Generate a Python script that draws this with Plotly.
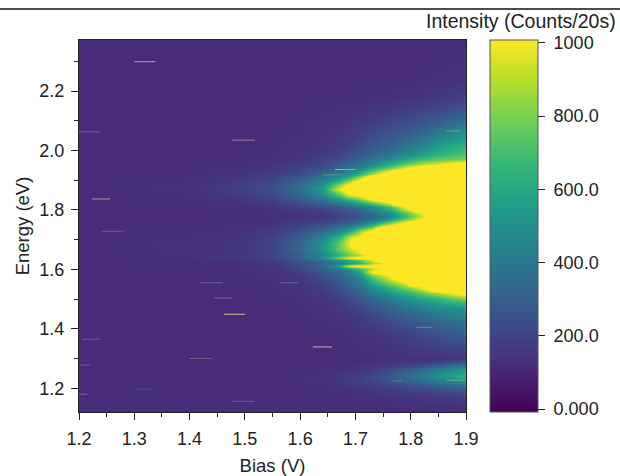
import plotly.graph_objects as go

bias = [1.2, 1.4, 1.5, 1.55, 1.6, 1.64, 1.67, 1.69, 1.71, 1.73, 1.76, 1.79, 1.82, 1.85, 1.9]
energy = [2.37, 2.24, 2.18, 2.14, 2.10, 2.06, 2.02, 1.99, 1.97, 1.955, 1.94, 1.92, 1.90, 1.885, 1.87,
          1.85, 1.83, 1.81, 1.79, 1.78, 1.77, 1.75, 1.73, 1.71, 1.69, 1.67, 1.66, 1.65, 1.64, 1.63,
          1.62, 1.61, 1.60, 1.59, 1.58, 1.56, 1.54, 1.52, 1.50, 1.47, 1.43, 1.38, 1.33, 1.30, 1.28,
          1.26, 1.24, 1.22, 1.20, 1.17, 1.12]
intensity = [
 [118,118,118,118,118,118,118,118,118,118,118,118,118,118,118],
 [118,118,118,118,118,118,118,118,118,120,120,122,125,130,138],
 [118,118,118,118,120,120,122,124,126,128,132,140,150,160,185],
 [118,118,118,120,122,126,130,135,140,148,162,178,195,215,255],
 [118,118,118,120,125,132,140,150,160,178,200,225,255,290,365],
 [118,118,120,122,128,138,152,168,190,212,245,285,335,400,520],
 [118,118,120,125,135,152,175,198,225,260,310,375,450,540,640],
 [118,118,122,128,142,170,200,232,270,315,385,470,560,640,720],
 [118,120,125,134,155,190,232,275,325,390,480,590,680,740,790],
 [118,120,128,142,170,215,270,325,385,470,600,750,880,970,1150],
 [118,122,135,155,190,250,320,385,470,590,770,980,1200,1600,2000],
 [118,125,148,180,235,320,420,520,670,860,1170,1800,2500,3000,3000],
 [118,130,170,215,295,420,590,790,1060,1600,2500,3000,3000,3000,3000],
 [118,132,185,240,350,510,820,1100,1800,2500,3000,3000,3000,3000,3000],
 [118,132,190,250,365,550,960,1300,2000,2800,3000,3000,3000,3000,3000],
 [118,130,175,230,330,470,720,960,1050,1500,2500,3000,3000,3000,3000],
 [118,125,145,185,260,350,480,580,710,880,1100,1800,3000,3000,3000],
 [118,122,130,145,185,225,280,325,390,480,670,1000,1500,2500,3000],
 [118,120,122,128,145,170,205,240,285,350,490,730,1000,1500,3000],
 [118,120,122,126,138,155,185,218,260,320,440,670,930,1300,3000],
 [118,120,122,128,145,170,205,240,290,360,500,770,1000,1500,3000],
 [118,122,130,145,190,240,305,370,465,630,960,1200,1500,2500,3000],
 [118,125,140,170,245,340,455,590,860,1030,2000,3000,3000,3000,3000],
 [118,130,150,190,295,440,650,910,1050,1700,3000,3000,3000,3000,3000],
 [118,132,158,205,325,500,760,1000,2000,3000,3000,3000,3000,3000,3000],
 [118,132,160,205,325,510,760,925,1050,2000,3000,3000,3000,3000,3000],
 [118,132,158,200,315,480,700,860,1010,2000,3000,3000,3000,3000,3000],
 [118,130,150,190,295,445,640,790,905,1050,2500,3000,3000,3000,3000],
 [122,135,165,210,320,490,800,1010,1090,1300,2000,3000,3000,3000,3000],
 [118,126,140,172,260,380,535,650,770,960,1500,3000,3000,3000,3000],
 [118,122,132,155,222,315,435,530,660,850,1050,2500,3000,3000,3000],
 [118,122,132,155,225,335,570,980,1040,1050,1500,3000,3000,3000,3000],
 [118,120,128,145,200,285,415,530,690,900,1050,2000,3000,3000,3000],
 [118,120,126,140,185,260,355,465,620,1020,1300,2500,3000,3000,3000],
 [118,120,124,135,170,235,315,405,530,800,1020,1500,2500,3000,3000],
 [118,118,122,130,155,205,275,345,445,630,850,1050,2000,3000,3000],
 [118,118,120,126,145,180,240,295,375,495,660,810,1000,1500,3000],
 [118,118,120,124,140,165,210,255,315,405,520,630,750,880,1100],
 [118,118,120,122,132,150,180,220,265,330,415,500,580,650,800],
 [118,118,118,120,126,138,158,180,205,250,310,370,430,480,530],
 [118,118,118,118,122,128,138,150,165,190,230,270,305,345,400],
 [118,118,118,118,118,120,124,130,138,148,165,185,210,235,295],
 [118,118,118,118,118,120,122,125,128,132,142,155,165,175,190],
 [118,118,118,118,118,118,120,120,122,125,130,135,140,145,155],
 [118,118,118,118,118,120,122,124,128,135,150,175,200,240,340],
 [118,118,118,118,122,128,135,145,160,180,225,290,350,430,560],
 [118,118,118,120,128,140,155,170,190,220,270,340,420,520,640],
 [118,118,118,120,125,135,150,165,185,205,245,290,330,390,480],
 [118,118,118,118,120,125,130,138,148,160,180,200,220,250,300],
 [118,118,118,118,118,120,122,125,128,132,138,145,155,160,170],
 [118,118,118,118,118,118,118,118,118,118,118,118,118,118,118],
]

spike_energy = [2.299, 2.063, 2.035, 1.837, 1.728, 1.555, 1.504, 1.449, 1.365, 1.30, 1.278, 1.197,
                1.18, 1.156, 1.339, 1.405, 1.227, 1.225, 2.066, 1.936, 1.918, 1.555]
spike_start = [1.30, 1.20, 1.477, 1.223, 1.24, 1.42, 1.444, 1.462, 1.205, 1.40, 1.20, 1.305,
               1.20, 1.477, 1.623, 1.811, 1.865, 1.768, 1.865, 1.663, 1.641, 1.563]
spike_end = [1.338, 1.238, 1.518, 1.256, 1.28, 1.46, 1.476, 1.50, 1.238, 1.44, 1.22, 1.33,
             1.215, 1.518, 1.658, 1.838, 1.90, 1.784, 1.89, 1.70, 1.677, 1.596]
spike_color = ["#b0a4a8", "#75668f", "#8f8298", "#a89a98", "#6a5a8c", "#6f5f8e", "#6f5f8e", "#d8c090",
               "#6f5f8e", "#6f5f8e", "#6a5a8c", "#3f5a92", "#75668f", "#6f5f8e", "#c0b8a8", "#85799a",
               "#6fa58f", "#55808a", "#6fa58f", "#a0b0a0", "#5f9088", "#5f6a8f"]

x_ticks = [1.2, 1.3, 1.4, 1.5, 1.6, 1.7, 1.8, 1.9]
y_ticks = [1.2, 1.4, 1.6, 1.8, 2.0, 2.2]
bar_values = [0, 200, 400, 600, 800, 1000]
bar_labels = ["\u00a00.000", "\u00a0200.0", "\u00a0400.0", "\u00a0600.0", "\u00a0800.0", "\u00a01000"]

FONT = "Liberation Sans, Arial, sans-serif"
INK = "#222222"
TICK_SIZE = 18
TITLE_SIZE = 18.5

fig = go.Figure()
fig.add_trace(go.Heatmap(
    x=bias, y=energy[::-1], z=intensity[::-1],
    colorscale="Viridis", zmin=-8, zmax=1008, zsmooth="best", hoverinfo="skip",
    colorbar=dict(
        x=(490 - 79) / 387, xanchor="left", xpad=0, y=1, yanchor="top", ypad=0,
        len=1, lenmode="fraction", thickness=48, thicknessmode="pixels",
        tickvals=bar_values, ticktext=bar_labels, ticks="outside", ticklen=7, tickwidth=1,
        tickcolor=INK, outlinecolor="#555555", outlinewidth=1,
        tickfont=dict(family=FONT, size=TICK_SIZE, color=INK),
    ),
))
for e, a, b, c in zip(spike_energy, spike_start, spike_end, spike_color):
    fig.add_trace(go.Scatter(x=[a, b], y=[e, e], mode="lines", line=dict(color=c, width=1),
                             showlegend=False, hoverinfo="skip"))

axis_common = dict(
    automargin=False,
    showgrid=False, zeroline=False, showline=True, linecolor=INK, linewidth=1, mirror=True,
    ticks="outside", ticklen=7, tickwidth=1, tickcolor=INK, ticklabelstandoff=3,
    tickfont=dict(family=FONT, size=TICK_SIZE, color=INK),
)
fig.update_xaxes(range=[1.2, 1.9], tickvals=x_ticks, tickformat=".1f",
                 minor=dict(dtick=0.05, tick0=1.2, ticks="outside", ticklen=4, tickcolor=INK),
                 title=dict(text="Bias (V)", font=dict(family=FONT, size=TITLE_SIZE, color=INK)),
                 **axis_common)
fig.update_yaxes(range=[1.12, 2.372], tickvals=y_ticks, tickformat=".1f",
                 minor=dict(dtick=0.1, tick0=1.2, ticks="outside", ticklen=4, tickcolor=INK),
                 title=dict(text="Energy (eV)", font=dict(family=FONT, size=TITLE_SIZE, color=INK), standoff=4),
                 **axis_common)
fig.update_layout(
    width=620, height=476, autosize=False,
    margin=dict(l=79, r=154, t=40, b=64, pad=0),
    paper_bgcolor="white", plot_bgcolor="white", showlegend=False,
    annotations=[dict(text="Intensity (Counts/20s)", xref="paper", yref="paper",
                      x=(618 - 79) / 387, y=(412 - 21) / 372, xanchor="right", yanchor="middle",
                      showarrow=False, font=dict(family=FONT, size=19.5, color=INK))],
    shapes=[dict(type="line", xref="paper", yref="paper", x0=-79 / 387, x1=541 / 387,
                 y0=(412 - 9) / 372, y1=(412 - 9) / 372, line=dict(color="#111111", width=1.5))],
)
fig.write_html("out.html", post_script="document.body.style.margin='0';",
               config={"displayModeBar": False})
